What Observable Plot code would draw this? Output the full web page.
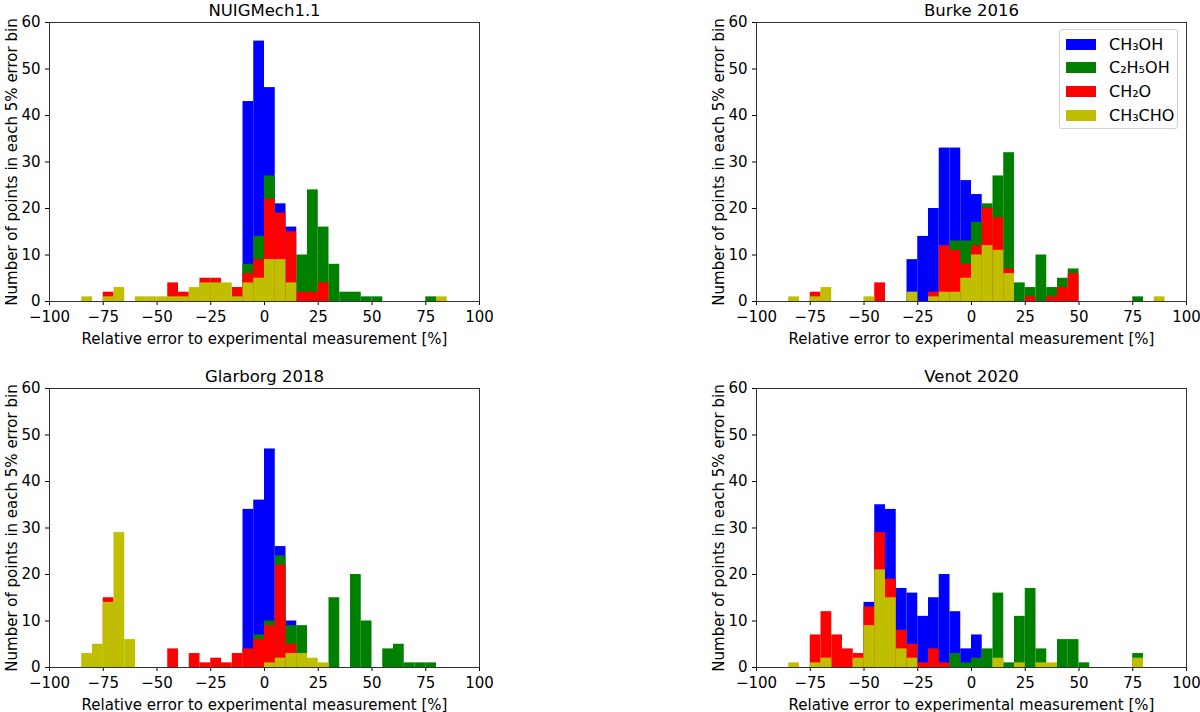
<!DOCTYPE html>
<html>
<head>
<meta charset="utf-8">
<script src="https://cdn.jsdelivr.net/npm/d3@7"></script>
<script src="https://cdn.jsdelivr.net/npm/@observablehq/plot@0.6"></script>
<style>
  body { margin: 0; background: #fff; font-family: "DejaVu Sans", sans-serif; }
  #chart { position: relative; width: 1200px; height: 712px; overflow: hidden; }
  .panel { position: absolute; }
  .legend {
    position: absolute; left: 1059px; top: 29px; width: 117px; height: 98px;
    border: 1px solid #d0d0d0; border-radius: 3px; background: rgba(255,255,255,0.8);
    font-size: 16px; color: #000;
  }
  .legend .row { position: absolute; left: 6px; height: 20px; display: flex; align-items: center; }
  .legend .sw { width: 30px; height: 11px; margin-right: 13px; }
</style>
</head>
<body>
<div id="chart"></div>
<script>
// error bins, 5% wide, left edges from -100 to 95
const binStarts = d3.range(-100, 100, 5);
const binWidth = 5;

const species = ["CH₃OH", "C₂H₅OH", "CH₂O", "CH₃CHO"];
const colors = ["#0000ff", "#008000", "#ff0000", "#bfbf00"];

const xTicks = [-100, -75, -50, -25, 0, 25, 50, 75, 100];
const yTicks = [0, 10, 20, 30, 40, 50, 60];
const xLabel = "Relative error to experimental measurement [%]";
const yLabel = "Number of points in each 5% error bin";

// counts per bin (overlaid histograms, drawn in species order)
const nuigCH3OH   = [0,0,0,0,0,0,0,0,0,0, 0,0,0,0,0,0,0,0,43,56, 46,21,16,0,0,0,0,0,0,0, 0,0,0,0,0,0,0,0,0,0];
const nuigC2H5OH  = [0,0,0,0,0,0,0,0,0,0, 0,0,0,0,0,0,0,0,8,14, 27,0,0,10,24,16,8,2,2,1, 1,0,0,0,0,1,0,0,0,0];
const nuigCH2O    = [0,0,0,0,0,2,0,0,0,0, 0,4,2,0,5,5,0,3,6,9, 22,19,15,2,2,4,0,0,0,0, 0,0,0,0,0,0,0,0,0,0];
const nuigCH3CHO  = [0,0,0,1,0,1,3,0,1,1, 1,1,1,3,4,4,4,1,4,5, 9,9,4,0,0,0,0,0,0,0, 0,0,0,0,0,0,1,0,0,0];

const burkeCH3OH  = [0,0,0,0,0,0,0,0,0,0, 0,0,0,0,9,14,20,33,33,26, 23,0,0,0,0,0,0,0,0,0, 0,0,0,0,0,0,0,0,0,0];
const burkeC2H5OH = [0,0,0,0,0,0,0,0,0,0, 0,0,0,0,0,0,0,0,13,13, 17,21,27,32,4,3,10,3,5,7, 0,0,0,0,0,1,0,0,0,0];
const burkeCH2O   = [0,0,0,0,0,2,0,0,0,0, 0,4,0,0,0,0,2,12,11,8, 12,20,18,7,0,1,0,1,3,6, 0,0,0,0,0,0,0,0,0,0];
const burkeCH3CHO = [0,0,0,1,0,1,3,0,0,0, 1,0,0,0,2,0,1,2,2,5, 10,12,11,6,0,0,0,0,0,0, 0,0,0,0,0,0,0,1,0,0];

const glarCH3OH   = [0,0,0,0,0,0,0,0,0,0, 0,0,0,0,0,0,0,0,34,36, 47,26,10,0,0,0,0,0,0,0, 0,0,0,0,0,0,0,0,0,0];
const glarC2H5OH  = [0,0,0,0,0,0,0,0,0,0, 0,0,0,0,0,0,0,0,0,7, 10,24,9,9,0,0,15,0,20,10, 0,4,5,1,1,1,0,0,0,0];
const glarCH2O    = [0,0,0,0,0,15,0,0,0,0, 0,4,0,3,1,2,1,3,4,6, 9,22,5,0,0,0,0,0,0,0, 0,0,0,0,0,0,0,0,0,0];
const glarCH3CHO  = [0,0,0,3,5,14,29,6,0,0, 0,0,0,0,0,0,0,0,0,0, 1,2,3,3,2,1,0,0,0,0, 0,0,0,0,0,0,0,0,0,0];

const venotCH3OH  = [0,0,0,0,0,0,0,0,0,0, 14,35,34,17,16,11,15,20,12,4, 7,0,0,0,0,0,0,0,0,0, 0,0,0,0,0,0,0,0,0,0];
const venotC2H5OH = [0,0,0,0,0,0,0,0,0,0, 0,0,0,0,0,0,0,0,3,1, 2,4,16,1,11,17,4,0,6,6, 1,0,0,0,0,3,0,0,0,0];
const venotCH2O   = [0,0,0,0,0,7,12,7,4,3, 13,29,19,8,5,1,4,1,0,0, 0,0,0,0,0,0,0,0,0,0, 0,0,0,0,0,0,0,0,0,0];
const venotCH3CHO = [0,0,0,1,0,1,2,0,0,2, 9,21,15,4,2,0,0,0,0,0, 0,0,2,0,1,0,1,1,0,0, 0,0,0,0,0,2,0,0,0,0];

const panels = [
  {title: "NUIGMech1.1",   series: [nuigCH3OH, nuigC2H5OH, nuigCH2O, nuigCH3CHO],     left: 0,   top: 0},
  {title: "Burke 2016",    series: [burkeCH3OH, burkeC2H5OH, burkeCH2O, burkeCH3CHO], left: 707, top: 0},
  {title: "Glarborg 2018", series: [glarCH3OH, glarC2H5OH, glarCH2O, glarCH3CHO],     left: 0,   top: 366},
  {title: "Venot 2020",    series: [venotCH3OH, venotC2H5OH, venotCH2O, venotCH3CHO], left: 707, top: 366}
];

const chart = document.getElementById("chart");

for (const p of panels) {
  const bars = p.series.map((counts, k) =>
    Plot.rectY(
      binStarts.map((b, i) => ({x1: b, x2: b + binWidth, count: counts[i]})).filter(d => d.count > 0),
      {x1: "x1", x2: "x2", y1: 0, y2: "count", fill: colors[k]}
    )
  );
  const svg = Plot.plot({
    width: 493,
    height: 356,
    marginLeft: 49,
    marginRight: 14,
    marginTop: 22,
    marginBottom: 55,
    style: {fontFamily: "DejaVu Sans", fontSize: "15px", color: "#000", background: "white"},
    x: {domain: [-100, 100], ticks: xTicks, tickSize: 4, tickPadding: 6, label: xLabel, labelAnchor: "center", labelArrow: "none", labelOffset: 42},
    y: {domain: [0, 60], ticks: yTicks, tickSize: 4, label: yLabel, labelAnchor: "center", labelArrow: "none", labelOffset: 43},
    marks: [
      ...bars,
      Plot.frame({stroke: "#333"}),
      Plot.text([p.title], {frameAnchor: "top", lineAnchor: "middle", dy: -12, fontSize: 16.5, fill: "#000"})
    ]
  });
  svg.classList.add("panel");
  svg.style.left = p.left + "px";
  svg.style.top = p.top + "px";
  chart.appendChild(svg);
}

// legend inside the Burke panel
const legend = document.createElement("div");
legend.className = "legend";
species.forEach((s, k) => {
  const row = document.createElement("div");
  row.className = "row";
  row.style.top = (4 + k * 23.8) + "px";
  row.innerHTML = `<span class="sw" style="background:${colors[k]}"></span><span>${s}</span>`;
  legend.appendChild(row);
});
chart.appendChild(legend);
</script>
</body>
</html>
